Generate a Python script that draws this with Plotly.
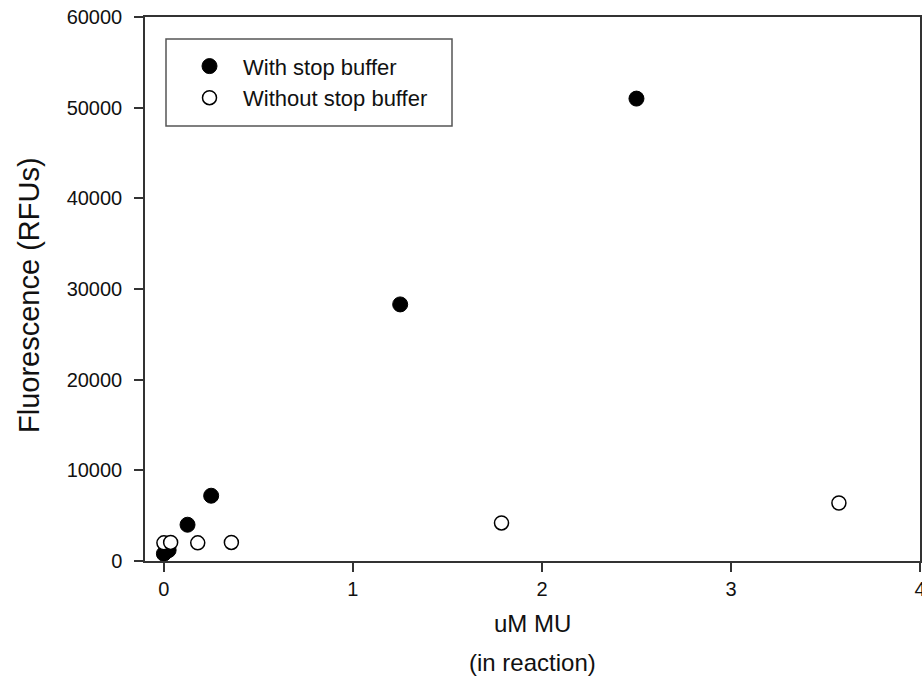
import plotly.graph_objects as go

# Data
with_x = [0.0, 0.025, 0.125, 0.25, 1.25, 2.5]
with_y = [800, 1200, 4000, 7200, 28300, 51000]
without_x = [0.0, 0.0357, 0.179, 0.357, 1.786, 3.571]
without_y = [2000, 2050, 2000, 2050, 4200, 6400]
x_ticks = [0, 1, 2, 3, 4]
y_ticks = [0, 10000, 20000, 30000, 40000, 50000, 60000]
series_names = ["With stop buffer", "Without stop buffer"]

FONT = "Liberation Sans, Arial, sans-serif"
AX = "#333333"
TXT = "#111111"

fig = go.Figure()
fig.add_trace(go.Scatter(
    x=with_x, y=with_y, mode="markers", name=series_names[0],
    marker=dict(symbol="circle", size=15, color="black", line=dict(color="black", width=1)),
))
fig.add_trace(go.Scatter(
    x=without_x, y=without_y, mode="markers", name=series_names[1],
    marker=dict(symbol="circle", size=14, color="white", line=dict(color="black", width=1.5)),
))

fig.update_layout(
    width=922, height=678,
    margin=dict(l=145, r=2, t=17, b=117),
    paper_bgcolor="white", plot_bgcolor="white",
    font=dict(family=FONT, size=20, color=TXT),
    showlegend=True,
    legend=dict(
        x=0.040, y=0.948, xanchor="left", yanchor="top",
        bgcolor="rgba(0,0,0,0)", borderwidth=0,
        font=dict(family=FONT, size=22, color=TXT),
        itemwidth=57, tracegroupgap=0,
    ),
    xaxis=dict(
        range=[-0.1, 4], tickvals=x_ticks, ticktext=[str(v) for v in x_ticks],
        showgrid=False, zeroline=False, automargin=False,
        showline=True, linecolor=AX, linewidth=1.5, mirror=True,
        ticks="outside", ticklen=9, tickwidth=1.5, tickcolor=AX,
        ticklabeloverflow="allow",
        tickfont=dict(family=FONT, size=20, color=TXT),
    ),
    yaxis=dict(
        range=[0, 60000], tickvals=y_ticks, ticktext=[str(v) for v in y_ticks],
        showgrid=False, zeroline=False, automargin=False,
        showline=True, linecolor=AX, linewidth=1.5, mirror=True,
        ticks="outside", ticklen=9, tickwidth=1.5, tickcolor=AX,
        ticklabelstandoff=8,
        tickfont=dict(family=FONT, size=20, color=TXT),
    ),
    shapes=[dict(
        type="rect", xref="paper", yref="paper",
        x0=(166 - 145) / 775, x1=(452 - 145) / 775,
        y0=(561 - 126) / 544, y1=(561 - 39) / 544,
        line=dict(color="#555555", width=1.5), fillcolor="rgba(0,0,0,0)",
    )],
    annotations=[
        dict(text="Fluorescence (RFUs)", xref="paper", yref="paper",
             x=-(145 - 29) / 775, y=(561 - 295) / 544, textangle=-90,
             showarrow=False, xanchor="center", yanchor="middle",
             font=dict(family=FONT, size=29, color=TXT)),
        dict(text="uM MU", xref="paper", yref="paper", x=0.5, y=-(623 - 561) / 544,
             showarrow=False, yanchor="middle", font=dict(family=FONT, size=24, color=TXT)),
        dict(text="(in reaction)", xref="paper", yref="paper", x=0.5, y=-(662 - 561) / 544,
             showarrow=False, yanchor="middle", font=dict(family=FONT, size=24, color=TXT)),
    ],
)

fig.write_html("out.html")
